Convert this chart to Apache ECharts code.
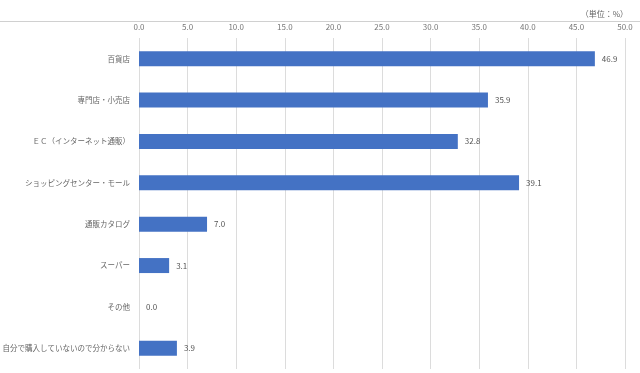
<!DOCTYPE html>
<html><head><meta charset="utf-8">
<script src="https://cdn.jsdelivr.net/npm/echarts@6/dist/echarts.min.js"></script>
<style>html,body{margin:0;padding:0;background:#fff}#c{width:640px;height:373px}</style>
</head><body><div id="c"></div>
<script>
const categories = ['百貨店','専門店・小売店','ＥＣ（インターネット通販）','ショッピングセンター・モール','通販カタログ','スーパー','その他','自分で購入していないので分からない'];
const values = [46.9, 35.9, 32.8, 39.1, 7.0, 3.1, 0.0, 3.9];
const unitLabel = '（単位：%）';

const chart = echarts.init(document.getElementById('c'));
chart.setOption({
  animation: false,
  backgroundColor: '#fff',
  textStyle: { fontFamily: '"Noto Sans CJK JP", sans-serif' },
  title: { text: unitLabel, right: 12, top: 10, padding: 0, textStyle: { fontSize: 8, fontWeight: 'normal', color: '#666' } },
  graphic: [{ type: 'line', shape: { x1: 0, y1: 21.5, x2: 640, y2: 21.5 }, style: { stroke: '#d0d0d0', lineWidth: 1 } }],
  grid: { left: 139, right: 15, top: 38, bottom: 4, containLabel: false, outerBoundsMode: 'none' },
  xAxis: {
    type: 'value', position: 'top', min: 0, max: 50, interval: 5,
    axisLine: { show: false }, axisTick: { show: false },
    axisLabel: { formatter: v => v.toFixed(1), fontSize: 8, color: '#777', margin: 7 },
    splitLine: { lineStyle: { color: '#dcdcdc' } }
  },
  yAxis: {
    type: 'category', inverse: true, data: categories,
    axisLine: { show: false }, axisTick: { show: false },
    axisLabel: { fontSize: 7.5, color: '#666', margin: 9 }
  },
  series: [{
    type: 'bar', data: values, barWidth: 15,
    itemStyle: { color: '#4472C4' },
    label: { show: true, position: 'right', formatter: p => p.value.toFixed(1), fontSize: 8, color: '#555', distance: 7 }
  }]
});
</script></body></html>
